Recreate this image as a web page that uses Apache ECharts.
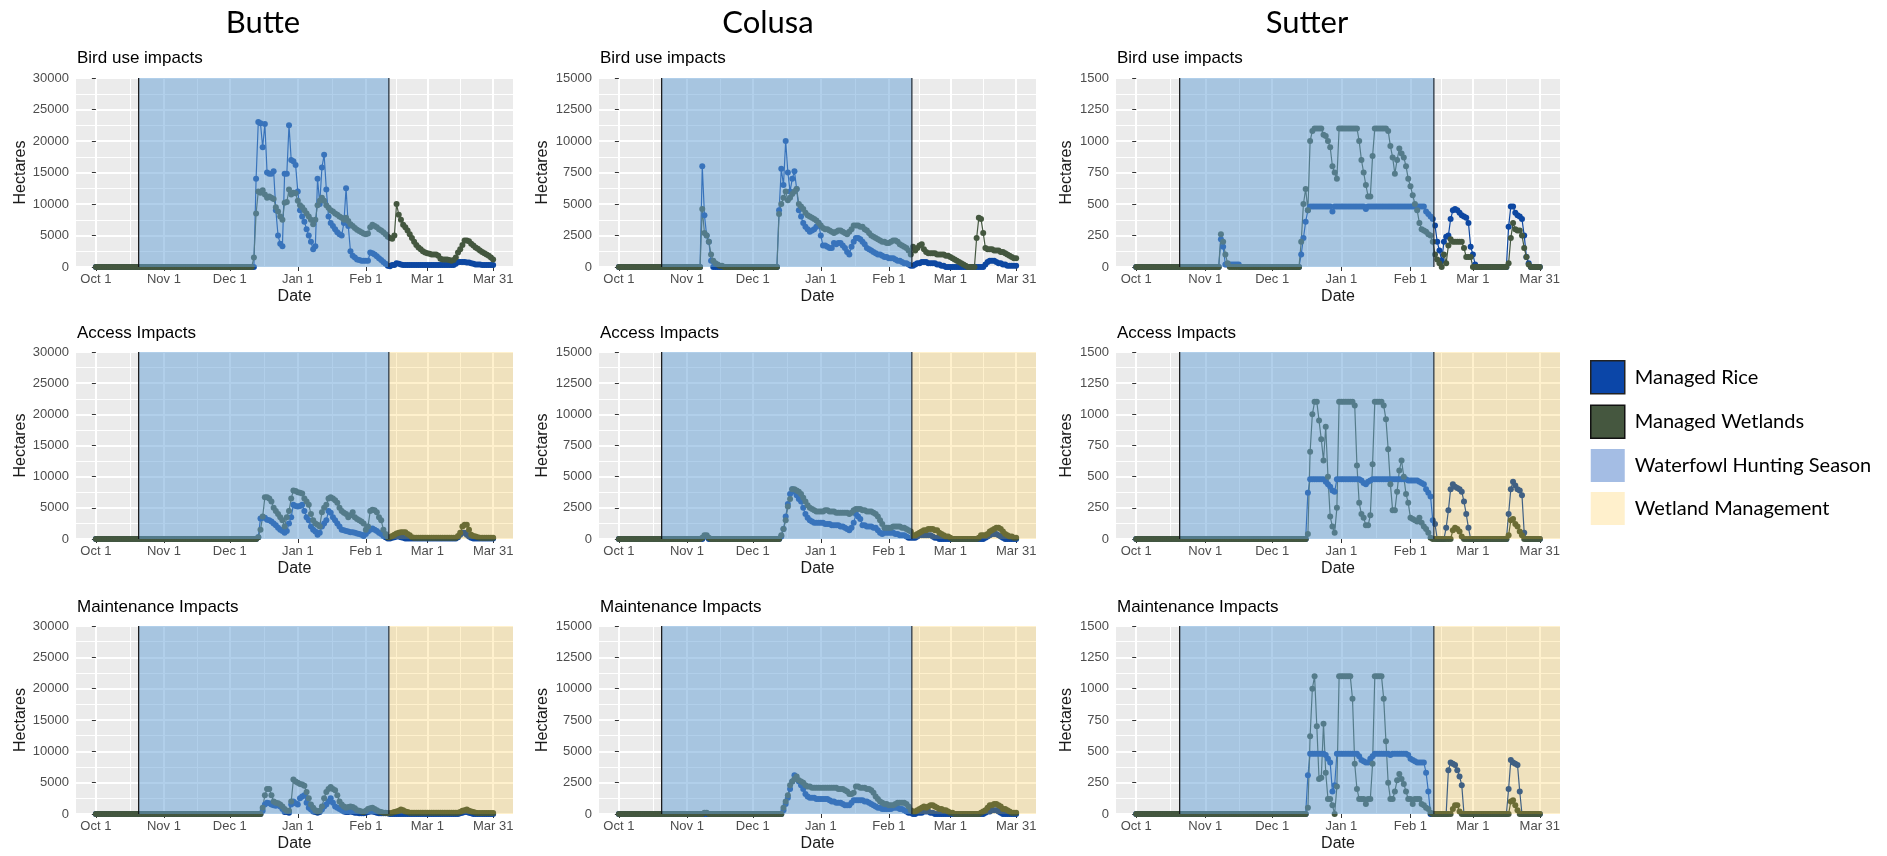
<!DOCTYPE html>
<html><head><meta charset="utf-8">
<script src="https://cdn.jsdelivr.net/npm/echarts@6/dist/echarts.min.js"></script>
<style>html,body{margin:0;padding:0;background:#fff}#c{width:1887px;height:856px}</style>
</head><body><div id="c"></div>
<script>
// ---- Data: daily hectares, Oct 1 (day 0) .. Mar 31 (day 181) ----
const BUTTE_BIRD_RICE = [
0,0,0,0,0,0,0,0,0,0, 0,0,0,0,0,0,0,0,0,0, 0,0,0,0,0,0,0,0,0,0, 0,0,0,0,0,0,0,0,0,0,
0,0,0,0,0,0,0,0,0,0, 0,0,0,0,0,0,0,0,0,0, 0,0,0,0,0,0,0,0,0,0,
0,0,0,14000,23000,22800,19000,22700,15000,14800,
14800,15200,9000,5000,3700,3300,14800,14800,22500,17000,
16800,16200,12000,9000,8000,7200,6000,5000,4000,2800,
3300,14000,10000,15800,17800,12300,8000,7000,6500,6000,
5500,5200,5000,7000,12500,6500,2500,1800,1500,1200,
1100,1000,1000,1000,1000,2300,2200,2000,1700,1400,
1100,800,500,200,100,300,300,600,500,400,
300,300,300,300,300,300,300,300,300,300,
300,300,300,300,300,300,300,300,300,300,
300,300,300,300,500,800,800,800,800,700,
700,600,500,400,400,400,300,300,300,300,
300,300];
const BUTTE_BIRD_WET = [
0,0,0,0,0,0,0,0,0,0, 0,0,0,0,0,0,0,0,0,0, 0,0,0,0,0,0,0,0,0,0, 0,0,0,0,0,0,0,0,0,0,
0,0,0,0,0,0,0,0,0,0, 0,0,0,0,0,0,0,0,0,0, 0,0,0,0,0,0,0,0,0,0,
0,0,1500,8500,12000,11800,12200,11500,11000,11200,
11000,10800,9500,8800,8000,7500,10200,10300,12300,11500,
11800,11700,10500,9800,9500,9000,8500,8000,7500,6800,
7500,9800,10500,11000,10500,9800,9400,9000,8800,8500,
8300,8000,7800,7500,7800,7300,6800,6500,6200,5900,
5700,5500,5300,5200,5300,6300,6700,6500,6300,6000,
5800,5500,5200,4800,4600,4500,5000,10000,8300,7500,
6700,6300,5800,5200,4600,4000,3500,3100,2800,2500,
2300,2200,2100,2000,2000,2000,1800,1300,1200,1200,
1200,1100,1000,1100,1500,2300,2800,3500,4200,4200,
4100,3700,3400,3100,2900,2600,2400,2200,2000,1800,
1500,1200];
const COLUSA_BIRD_RICE = [
0,0,0,0,0,0,0,0,0,0, 0,0,0,0,0,0,0,0,0,0, 0,0,0,0,0,0,0,0,0,0,
0,0,0,0,0,0,0,0,8000,4100,
2500,2000,500,0,0,0,0,0,0,0,
0,0,0,0,0,0,0,0,0,0, 0,0,0,0,0,0,0,0,0,0,
0,0,0,4500,7800,6500,10000,7500,6000,7000,
7600,6200,4500,4000,3500,3200,3000,2800,2900,3000,
3200,3500,2500,1700,1700,1600,1500,1500,1900,1800,
1900,1900,1700,1500,1200,1000,1600,2000,2300,2300,
2200,2000,1800,1500,1400,1300,1200,1100,1000,1000,
900,800,800,700,700,700,600,500,500,400,
300,300,200,100,100,200,300,300,400,400,
400,300,300,300,300,200,200,100,100,0,
0,0,0,0,0,0,0,0,0,0,
0,0,0,0,0,0,0,200,400,500,
500,500,400,300,300,200,200,100,100,100,
100,100];
const COLUSA_BIRD_WET = [
0,0,0,0,0,0,0,0,0,0, 0,0,0,0,0,0,0,0,0,0, 0,0,0,0,0,0,0,0,0,0,
0,0,0,0,0,0,0,0,4600,2700,
2500,2000,1000,500,300,200,100,100,0,0,
0,0,0,0,0,0,0,0,0,0, 0,0,0,0,0,0,0,0,0,0,
0,0,0,4200,5000,5500,6000,5300,5500,5800,
6000,6200,5000,4800,4600,4300,4100,4000,3900,3800,
3700,3500,3300,3100,3000,3000,2900,2800,2700,2800,
2900,2900,2800,2700,2600,2800,3000,3300,3300,3300,
3200,3200,3000,2900,2700,2500,2400,2300,2200,2100,
2000,2000,1900,1900,2000,2100,2100,2000,1800,1700,
1600,1500,1300,1000,1600,1300,1500,1700,1800,1400,
1200,1100,1100,1100,1100,1000,1000,1000,1000,900,
900,800,700,600,500,400,300,200,100,0,
0,0,0,2300,3900,3800,2700,1500,1400,1400,
1400,1300,1300,1300,1200,1200,1100,1000,900,800,
700,700];
const SUTTER_BIRD_RICE = [
0,0,0,0,0,0,0,0,0,0, 0,0,0,0,0,0,0,0,0,0, 0,0,0,0,0,0,0,0,0,0,
0,0,0,0,0,0,0,0,220,160,
20,20,20,20,20,20,20,0,0,0,
0,0,0,0,0,0,0,0,0,0, 0,0,0,0,0,0,0,0,0,0,
0,0,0,0,100,230,360,450,480,480,
480,480,480,480,480,480,480,480,440,480,
480,480,480,480,480,480,480,480,480,480,
480,480,480,460,480,480,480,480,480,480,
480,480,480,480,480,480,480,480,480,480,
480,480,480,480,480,480,480,480,480,480,
440,420,400,380,330,200,130,50,200,240,
250,380,450,460,450,430,410,400,390,350,
160,100,20,0,0,0,0,0,0,0,
0,0,0,0,0,0,0,320,480,480,
430,410,400,380,250,80,30,0,0,0,
0,0];
const SUTTER_BIRD_WET = [
0,0,0,0,0,0,0,0,0,0, 0,0,0,0,0,0,0,0,0,0, 0,0,0,0,0,0,0,0,0,0,
0,0,0,0,0,0,0,0,260,200,
100,30,0,0,0,0,0,0,0,0,
0,0,0,0,0,0,0,0,0,0, 0,0,0,0,0,0,0,0,0,0,
0,0,0,0,200,500,620,450,1000,1080,
1100,1100,1100,1100,1050,1040,1000,950,800,750,
700,1100,1100,1100,1100,1100,1100,1100,1100,1100,
1000,850,750,650,560,560,880,1100,1100,1100,
1100,1100,1100,1080,960,870,740,850,940,900,
870,800,700,640,570,500,450,350,300,290,
280,260,250,200,100,60,30,0,100,30,
170,220,200,200,200,200,200,150,80,80,
80,0,0,0,0,0,0,0,0,0,
0,0,0,0,0,0,0,30,230,350,
300,290,290,250,150,80,20,0,0,0,
0,0];
const BUTTE_ACCESS_RICE = [
0,0,0,0,0,0,0,0,0,0, 0,0,0,0,0,0,0,0,0,0, 0,0,0,0,0,0,0,0,0,0, 0,0,0,0,0,0,0,0,0,0,
0,0,0,0,0,0,0,0,0,0, 0,0,0,0,0,0,0,0,0,0, 0,0,0,0,0,0,0,0,0,0,
0,0,0,0,300,3300,3400,3400,3100,3000,
2800,2500,2200,1800,1500,1300,1000,1300,2500,3500,
5500,5300,5200,5300,5500,4500,3500,3000,2000,1500,
1200,700,1000,2000,2500,3000,4500,4200,3500,3000,
2500,2000,1500,1400,1300,1200,1100,1100,1000,900,
800,700,500,800,1200,1500,1700,1500,1300,1000,
800,500,300,100,100,200,300,400,400,300,
200,100,100,100,100,100,100,100,100,100,
100,100,100,100,100,100,100,100,100,100,
100,100,100,100,100,300,700,1000,1000,700,
400,200,100,100,100,100,100,100,100,100,
100,100];
const BUTTE_ACCESS_WET = [
0,0,0,0,0,0,0,0,0,0, 0,0,0,0,0,0,0,0,0,0, 0,0,0,0,0,0,0,0,0,0, 0,0,0,0,0,0,0,0,0,0,
0,0,0,0,0,0,0,0,0,0, 0,0,0,0,0,0,0,0,0,0, 0,0,0,0,0,0,0,0,0,0,
0,0,0,0,300,1500,3600,6700,6700,6500,
6000,5000,4500,4000,3500,3000,2000,3500,4500,6500,
7800,7700,7500,7400,7300,6500,6000,5500,4000,3000,
2500,2300,2000,4300,5000,5500,6500,6700,6500,6200,
5800,5000,4500,4200,4000,3500,3800,4300,3500,3200,
3000,2800,2500,1500,2000,4500,4700,4600,4300,3500,
3000,1500,800,300,300,500,700,900,1000,1100,
1100,1100,800,600,300,200,200,200,200,200,
200,200,200,200,200,200,200,200,200,200,
200,200,200,200,200,500,1000,2000,2300,2300,
1500,700,500,400,300,200,200,200,200,200,
200,200];
const COLUSA_ACCESS_RICE = [
0,0,0,0,0,0,0,0,0,0, 0,0,0,0,0,0,0,0,0,0, 0,0,0,0,0,0,0,0,0,0,
0,0,0,0,0,0,0,0,0,200,
200,0,0,0,0,0,0,0,0,0,
0,0,0,0,0,0,0,0,0,0, 0,0,0,0,0,0,0,0,0,0,
0,0,0,0,200,800,1800,2800,3600,4000,
3800,3500,3200,3000,2500,2000,1700,1500,1400,1300,
1300,1300,1300,1300,1200,1200,1200,1100,1100,1100,
1100,1000,1000,900,800,700,900,1300,2000,1800,
1600,1100,1100,1000,1000,1000,900,900,700,500,
400,500,500,500,500,500,400,400,300,300,
300,200,100,100,100,100,200,300,300,300,
300,300,300,200,100,100,0,0,0,0,
0,0,0,0,0,0,0,0,0,0,
0,0,0,0,0,0,0,100,200,300,
400,400,400,300,200,100,0,0,0,0,
0,0];
const COLUSA_ACCESS_WET = [
0,0,0,0,0,0,0,0,0,0, 0,0,0,0,0,0,0,0,0,0, 0,0,0,0,0,0,0,0,0,0,
0,0,0,0,0,0,0,0,100,300,
300,100,0,0,0,0,0,0,0,0,
0,0,0,0,0,0,0,0,0,0, 0,0,0,0,0,0,0,0,0,0,
0,0,0,0,300,800,1500,2600,3200,4000,
4000,3900,3800,3600,3300,3000,2700,2500,2400,2300,
2200,2200,2200,2200,2300,2300,2200,2200,2200,2100,
2100,2100,2100,2100,2100,2000,2100,2300,2400,2400,
2400,2300,2300,2200,2200,2200,2100,2000,1800,1500,
1200,900,900,900,900,1000,1000,1000,1000,900,
900,800,700,600,300,300,400,500,600,700,
700,800,800,800,700,700,500,400,300,200,
200,100,0,0,0,0,0,0,0,0,
0,0,0,0,100,300,300,300,400,600,
700,800,900,900,800,600,400,300,200,200,
100,100];
const SUTTER_ACCESS_RICE = [
0,0,0,0,0,0,0,0,0,0, 0,0,0,0,0,0,0,0,0,0, 0,0,0,0,0,0,0,0,0,0, 0,0,0,0,0,0,0,0,0,0,
0,0,0,0,0,0,0,0,0,0, 0,0,0,0,0,0,0,0,0,0, 0,0,0,0,0,0,0,0,0,0,
0,0,0,0,0,0,0,370,480,480,
480,480,480,480,480,460,440,420,390,380,
480,480,480,480,480,480,480,480,480,480,
480,470,450,440,460,470,480,480,480,480,
480,480,480,480,480,480,480,480,480,480,
480,480,470,470,470,470,470,460,450,440,
400,370,340,150,120,0,0,0,0,90,
230,400,440,420,410,400,380,300,200,90,
0,0,0,0,0,0,0,0,0,0,
0,0,0,0,0,0,0,200,400,460,
430,400,390,350,50,0,0,0,0,0,
0,0];
const SUTTER_ACCESS_WET = [
0,0,0,0,0,0,0,0,0,0, 0,0,0,0,0,0,0,0,0,0, 0,0,0,0,0,0,0,0,0,0, 0,0,0,0,0,0,0,0,0,0,
0,0,0,0,0,0,0,0,0,0, 0,0,0,0,0,0,0,0,0,0, 0,0,0,0,0,0,0,0,0,0,
0,0,0,0,0,0,0,40,700,1000,
1100,1100,950,800,630,900,500,180,100,50,
250,1100,1100,1100,1100,1100,1100,1100,1070,590,
290,200,170,110,110,190,600,1100,1100,1100,
1100,1070,960,720,440,230,230,380,550,630,
500,360,290,170,160,150,140,170,130,100,
80,50,10,0,0,0,0,0,0,0,
0,0,70,90,80,60,20,0,0,0,
0,0,0,0,0,0,0,0,0,0,
0,0,0,0,0,0,0,30,150,160,
120,100,60,30,0,0,0,0,0,0,
0,0];
const BUTTE_MAINT_RICE = [
0,0,0,0,0,0,0,0,0,0, 0,0,0,0,0,0,0,0,0,0, 0,0,0,0,0,0,0,0,0,0, 0,0,0,0,0,0,0,0,0,0,
0,0,0,0,0,0,0,0,0,0, 0,0,0,0,0,0,0,0,0,0, 0,0,0,0,0,0,0,0,0,0,
0,0,0,0,0,0,500,1500,1800,1700,
1500,1400,1300,1500,1200,800,300,300,200,1500,
2000,1700,1500,2500,2800,3000,1800,1000,700,400,
300,200,300,700,1200,1500,2000,2500,1800,1200,
1000,800,600,400,300,300,400,300,200,200,
100,100,100,200,300,400,400,300,200,100,
100,100,100,100,0,0,0,0,0,0,
0,0,0,0,0,0,0,0,0,0,
0,0,0,0,0,0,0,0,0,0,
0,0,0,0,0,0,100,200,300,300,
200,100,0,0,0,0,0,0,0,0,
0,0];
const BUTTE_MAINT_WET = [
0,0,0,0,0,0,0,0,0,0, 0,0,0,0,0,0,0,0,0,0, 0,0,0,0,0,0,0,0,0,0, 0,0,0,0,0,0,0,0,0,0,
0,0,0,0,0,0,0,0,0,0, 0,0,0,0,0,0,0,0,0,0, 0,0,0,0,0,0,0,0,0,0,
0,0,0,0,0,0,1000,3000,4000,4000,
3000,2000,1800,1700,1500,1200,800,500,500,2000,
5500,5200,5000,4800,4700,4500,3500,2500,1500,1000,
600,400,500,1200,2500,3500,4000,4300,4000,3800,
3000,2000,1500,1200,1000,1100,1200,1100,900,600,
500,400,300,500,800,900,1000,800,600,400,
300,200,200,100,100,200,300,400,500,700,
600,400,300,200,200,200,200,200,200,200,
200,200,200,200,200,200,200,200,200,200,
200,200,200,200,200,200,300,500,600,700,
500,400,300,200,150,150,150,150,150,150,
150,150];
const COLUSA_MAINT_RICE = [
0,0,0,0,0,0,0,0,0,0, 0,0,0,0,0,0,0,0,0,0, 0,0,0,0,0,0,0,0,0,0, 0,0,0,0,0,0,0,0,0,0,
0,0,0,0,0,0,0,0,0,0, 0,0,0,0,0,0,0,0,0,0, 0,0,0,0,0,0,0,0,0,0,
0,0,0,0,0,300,800,1300,2000,2600,
3100,2800,2600,2300,2000,1600,1400,1300,1300,1300,
1200,1200,1200,1200,1200,1200,1100,1000,1000,900,
900,900,800,700,700,700,900,1100,1100,1100,
1100,1100,1000,1000,900,800,700,600,500,500,
400,400,400,400,400,500,500,500,400,400,
300,200,100,100,0,0,100,100,100,200,
200,200,100,100,0,0,0,0,0,0,
0,0,0,0,0,0,0,0,0,0,
0,0,0,0,0,0,0,100,200,200,
300,300,300,200,100,0,0,0,0,0,
0,0];
const COLUSA_MAINT_WET = [
0,0,0,0,0,0,0,0,0,0, 0,0,0,0,0,0,0,0,0,0, 0,0,0,0,0,0,0,0,0,0,
0,0,0,0,0,0,0,0,0,100,
100,0,0,0,0,0,0,0,0,0,
0,0,0,0,0,0,0,0,0,0, 0,0,0,0,0,0,0,0,0,0,
0,0,0,0,0,500,1000,1500,2300,2600,
2800,3000,2700,2600,2500,2300,2200,2200,2100,2100,
2100,2100,2100,2100,2100,2100,2100,2100,2100,2100,
2000,2000,2000,1900,1800,1600,1600,1700,2200,2200,
2100,2100,2100,2000,2000,1900,1700,1400,1200,1000,
900,800,800,700,700,700,800,900,900,900,
900,800,600,300,200,200,300,400,500,600,
500,600,700,700,600,500,400,400,300,300,
200,100,100,0,0,0,0,0,0,0,
0,0,0,0,0,100,200,300,500,700,
700,800,800,700,600,400,400,300,200,100,
100,100];
const SUTTER_MAINT_RICE = [
0,0,0,0,0,0,0,0,0,0, 0,0,0,0,0,0,0,0,0,0, 0,0,0,0,0,0,0,0,0,0, 0,0,0,0,0,0,0,0,0,0,
0,0,0,0,0,0,0,0,0,0, 0,0,0,0,0,0,0,0,0,0, 0,0,0,0,0,0,0,0,0,0,
0,0,0,0,0,0,0,310,480,480,
480,480,480,480,480,470,440,410,180,230,
480,480,480,480,480,480,480,480,480,480,
460,430,420,410,410,440,460,480,480,480,
480,480,480,480,470,480,480,480,480,480,
480,480,470,440,430,420,410,410,410,410,
330,180,0,0,0,0,0,0,0,0,
350,410,400,390,350,300,230,0,0,0,
0,0,0,0,0,0,0,0,0,0,
0,0,0,0,0,0,0,200,430,410,
400,390,180,0,0,0,0,0,0,0,
0,0];
const SUTTER_MAINT_WET = [
0,0,0,0,0,0,0,0,0,0, 0,0,0,0,0,0,0,0,0,0, 0,0,0,0,0,0,0,0,0,0, 0,0,0,0,0,0,0,0,0,0,
0,0,0,0,0,0,0,0,0,0, 0,0,0,0,0,0,0,0,0,0, 0,0,0,0,0,0,0,0,0,0,
0,0,0,0,0,0,0,50,620,1000,
1100,700,280,290,720,330,120,120,70,0,
220,1100,1100,1100,1100,1100,1100,920,400,200,
120,120,120,80,120,120,400,1100,1100,1100,
1100,920,580,250,120,120,180,270,320,280,
240,180,120,120,80,120,120,120,80,70,
50,40,10,0,0,0,0,0,0,0,
0,0,40,70,70,20,0,0,0,0,
0,0,0,0,0,0,0,0,0,0,
0,0,0,0,0,0,0,0,100,110,
70,30,0,0,0,0,0,0,0,0,
0,0];

const COUNTIES = ['Butte', 'Colusa', 'Sutter'];
const IMPACTS = ['Bird use impacts', 'Access Impacts', 'Maintenance Impacts'];
const Y_MAX = [30000, 15000, 1500];
const Y_STEP = [5000, 2500, 250];
const TICK_DAYS = [0, 31, 61, 92, 123, 151, 181];
const TICK_LABELS = ['Oct 1', 'Nov 1', 'Dec 1', 'Jan 1', 'Feb 1', 'Mar 1', 'Mar 31'];
const MINOR_DAYS = [15.5, 46, 76.5, 107.5, 137, 166];
const HUNT_START = 19.5, HUNT_END = 133.5;   // waterfowl hunting season (day index)
const RICE = [
  [BUTTE_BIRD_RICE, COLUSA_BIRD_RICE, SUTTER_BIRD_RICE],
  [BUTTE_ACCESS_RICE, COLUSA_ACCESS_RICE, SUTTER_ACCESS_RICE],
  [BUTTE_MAINT_RICE, COLUSA_MAINT_RICE, SUTTER_MAINT_RICE]];
const WET = [
  [BUTTE_BIRD_WET, COLUSA_BIRD_WET, SUTTER_BIRD_WET],
  [BUTTE_ACCESS_WET, COLUSA_ACCESS_WET, SUTTER_ACCESS_WET],
  [BUTTE_MAINT_WET, COLUSA_MAINT_WET, SUTTER_MAINT_WET]];

// ---- Layout / style ----
const COL_LEFT = [76, 599, 1116], COL_W = [437, 437, 444], COL_CENTER = [263, 768, 1307];
const ROW_TOP = [78, 352, 626], ROW_H = [189, 187, 188], SUB_Y = [58, 333, 607];
const NAME_GAP = [47, 48, 41];
const X_MIN = -9.05, X_MAX = 190.05;
const SANS = "'Liberation Sans', Arial, sans-serif";
const C_RICE = '#0D47A1', C_WET = '#44573F';
const C_HUNT = 'rgba(100,159,214,0.5)', C_MGMT = 'rgba(254,187,20,0.21)';

const grids = [], xAxes = [], yAxes = [], series = [], graphics = [];
COUNTIES.forEach((name, c) => graphics.push({type: 'text', x: COL_CENTER[c], y: 23,
  style: {text: name, font: '31px Lato', fill: '#000', align: 'center', verticalAlign: 'middle'}}));

for (let r = 0; r < 3; r++) {
  for (let c = 0; c < 3; c++) {
    const p = grids.length;
    grids.push({left: COL_LEFT[c], top: ROW_TOP[r], width: COL_W[c], height: ROW_H[r],
      show: true, backgroundColor: '#EBEBEB', borderWidth: 0});
    graphics.push({type: 'text', x: COL_LEFT[c] + 1, y: SUB_Y[r],
      style: {text: IMPACTS[r], font: '17px ' + SANS, fill: '#000', align: 'left', verticalAlign: 'middle'}});
    xAxes.push({type: 'value', gridIndex: p, min: X_MIN, max: X_MAX, position: 'bottom',
      name: 'Date', nameLocation: 'middle', nameGap: 22,
      nameTextStyle: {fontFamily: SANS, fontSize: 16, color: '#1a1a1a'},
      axisLine: {show: false},
      axisTick: {show: true, length: 4, customValues: TICK_DAYS, lineStyle: {color: '#333', width: 1}},
      axisLabel: {customValues: TICK_DAYS, margin: 6, fontFamily: SANS, fontSize: 13, color: '#4D4D4D',
        formatter: v => TICK_LABELS[TICK_DAYS.indexOf(v)] || ''},
      splitLine: {show: true, lineStyle: {color: '#fff', width: 2}}});
    xAxes.push({type: 'value', gridIndex: p, min: X_MIN, max: X_MAX, position: 'top',
      axisLine: {show: false}, axisLabel: {show: false},
      axisTick: {show: false, customValues: MINOR_DAYS},
      splitLine: {show: true, lineStyle: {color: '#fff', width: 1}}});
    yAxes.push({type: 'value', gridIndex: p, min: 0, max: Y_MAX[c], interval: Y_STEP[c],
      name: 'Hectares', nameLocation: 'middle', nameGap: NAME_GAP[c],
      nameTextStyle: {fontFamily: SANS, fontSize: 16, color: '#1a1a1a'},
      axisLine: {show: false},
      axisTick: {show: true, length: 4, lineStyle: {color: '#333', width: 1}},
      axisLabel: {margin: 7, fontFamily: SANS, fontSize: 13, color: '#4D4D4D', formatter: v => String(v)},
      splitLine: {show: true, lineStyle: {color: '#fff', width: 2}},
      minorTick: {show: false, splitNumber: 2},
      minorSplitLine: {show: true, lineStyle: {color: '#fff', width: 1}}});
    const xi = 2 * p;
    [['Managed Rice', RICE[r][c], C_RICE], ['Managed Wetlands', WET[r][c], C_WET]].forEach(([nm, arr, col]) => {
      series.push({type: 'line', name: nm, xAxisIndex: xi, yAxisIndex: p, z: 2, clip: false,
        data: arr.map((v, i) => [i, v]), symbol: 'circle', symbolSize: 6, showSymbol: true,
        itemStyle: {color: col}, lineStyle: {color: col, width: 1.2}, silent: true});
    });
    series.push({type: 'custom', name: 'Waterfowl Hunting Season', xAxisIndex: xi, yAxisIndex: p, z: 5,
      silent: true, itemStyle: {color: '#A4BDE4'}, data: [[HUNT_START, HUNT_END]],
      renderItem: (params, api) => {
        const cs = params.coordSys;
        const a = api.coord([api.value(0), 0])[0], b = api.coord([api.value(1), 0])[0];
        return {type: 'group', children: [
          {type: 'rect', shape: {x: a, y: cs.y, width: b - a, height: cs.height}, style: {fill: C_HUNT}},
          {type: 'line', shape: {x1: a, y1: cs.y, x2: a, y2: cs.y + cs.height}, style: {stroke: '#111', lineWidth: 1.2}},
          {type: 'line', shape: {x1: b, y1: cs.y, x2: b, y2: cs.y + cs.height}, style: {stroke: '#1d2833', lineWidth: 1.2}}]};
      }});
    if (r > 0) {
      series.push({type: 'custom', name: 'Wetland Management', xAxisIndex: xi, yAxisIndex: p, z: 5,
        silent: true, itemStyle: {color: '#FFF0CC'}, data: [[HUNT_END, 0]],
        renderItem: (params, api) => {
          const cs = params.coordSys;
          const a = api.coord([api.value(0), 0])[0];
          return {type: 'rect', shape: {x: a + 0.6, y: cs.y, width: cs.x + cs.width - a - 0.6, height: cs.height},
            style: {fill: C_MGMT}};
        }});
    }
  }
}

const chart = echarts.init(document.getElementById('c'), null, {renderer: 'canvas'});
chart.setOption({
  animation: false,
  backgroundColor: '#fff',
  grid: grids, xAxis: xAxes, yAxis: yAxes, series: series, graphic: graphics,
  legend: {orient: 'vertical', left: 1585, top: 355, itemWidth: 34, itemHeight: 33, itemGap: 10,
    selectedMode: false,
    textStyle: {fontFamily: 'Lato', fontSize: 20, color: '#000', padding: [0, 0, 0, 5]},
    data: [
      {name: 'Managed Rice', icon: 'rect', itemStyle: {color: '#0B46A8', borderColor: '#222', borderWidth: 1.5}},
      {name: 'Managed Wetlands', icon: 'rect', itemStyle: {color: '#45573F', borderColor: '#111', borderWidth: 1.5}},
      {name: 'Waterfowl Hunting Season', icon: 'rect', itemStyle: {color: '#A4BDE4', borderWidth: 0}},
      {name: 'Wetland Management', icon: 'rect', itemStyle: {color: '#FFF0CC', borderWidth: 0}}]}
});
</script></body></html>
